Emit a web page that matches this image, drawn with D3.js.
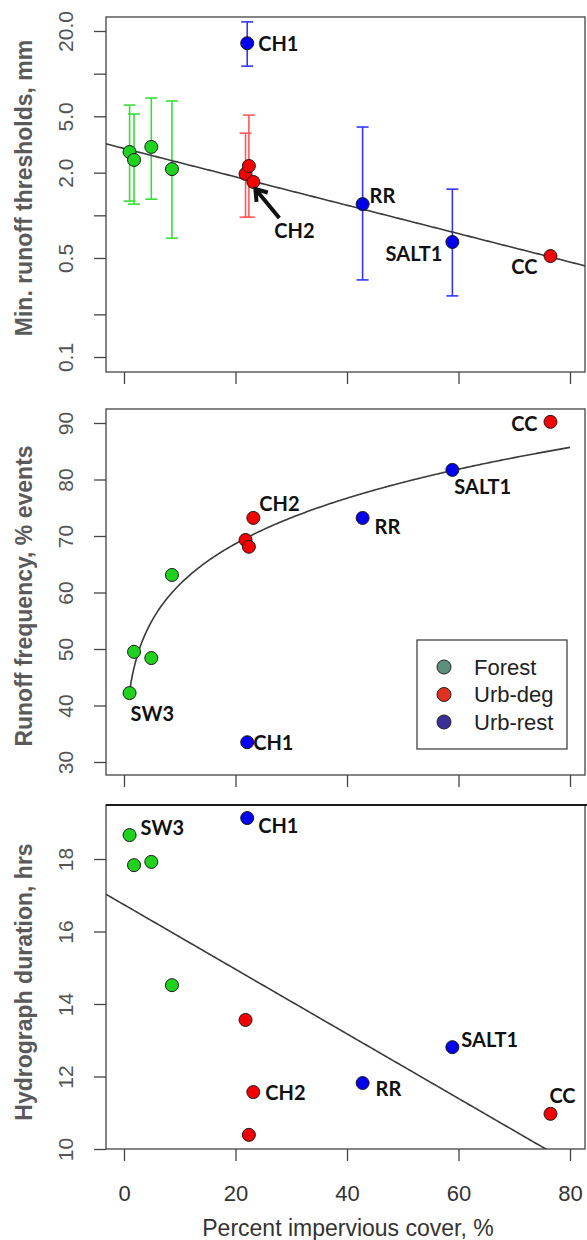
<!DOCTYPE html>
<html>
<head>
<meta charset="utf-8">
<script src="https://cdn.jsdelivr.net/npm/d3@7"></script>
<style>
  body { margin: 0; background: #fff; }
  svg { display: block; }
</style>
</head>
<body>
<svg id="chart" width="587" height="1240"></svg>
<script>
// values, one entry per site
const sites = ["SW3", "F2", "F3", "F4", "D1", "D2", "CH2", "CC", "CH1", "RR", "SALT1"];
const groups = ["Forest", "Forest", "Forest", "Forest", "Urb-deg", "Urb-deg", "Urb-deg", "Urb-deg", "Urb-rest", "Urb-rest", "Urb-rest"];
const impervious = [1.0, 1.8, 4.9, 8.6, 21.8, 22.4, 23.2, 76.5, 22.1, 42.8, 58.9];
const thresholdMin = [2.80, 2.46, 3.04, 2.12, 1.96, 2.23, 1.72, 0.516, 16.4, 1.20, 0.648];
const thresholdLow = [1.26, 1.20, 1.30, 0.69, 0.97, 0.97, null, null, 11.3, 0.35, 0.27];
const thresholdHigh = [6.0, 5.19, 6.73, 6.41, 3.8, 5.1, null, null, 23.2, 4.2, 1.53];
const runoffFreq = [42.2, 49.5, 48.4, 63.1, 69.3, 68.1, 73.2, 90.2, 33.5, 73.2, 81.7];
const hydroDuration = [18.66, 17.83, 17.92, 14.52, 13.56, 10.39, 11.57, 10.97, 19.13, 11.82, 12.81];

const legendLabels = ["Forest", "Urb-deg", "Urb-rest"];
const xTicks = [0, 20, 40, 60, 80];
const threshTicks = [0.1, 0.2, 0.5, 1, 2, 5, 10, 20];
const threshTickLabels = ["0.1", "", "0.5", "", "2.0", "5.0", "", "20.0"];
const freqTicks = [30, 40, 50, 60, 70, 80, 90];
const durTicks = [10, 12, 14, 16, 18];

// fitted lines, coefficients estimated from the drawn curves
const threshFit = [0.472, -0.01002];  // log10(y) = a + b*x
const freqFit = [42.5, 0.160];        // y = a * x^b
const durFit = [16.74, -0.0891];      // y = a + b*x

// colours
const pointFill = {"Forest": "#1ed21e", "Urb-deg": "#f50000", "Urb-rest": "#0000ee"};
const barColor = {"Forest": "#3ade3a", "Urb-deg": "#ff5a5a", "Urb-rest": "#3434ff"};
const legendFill = {"Forest": "#5e8f7c", "Urb-deg": "#e0301f", "Urb-rest": "#3b2f97"};

// label offsets from their point, px: [dx, dy, anchor]
const labelPos = {
  p1: {CH1: [11, 0, "start"], RR: [7, -9, "start"], SALT1: [-10, 11, "end"], CC: [-13, 10, "end"], CH2: [21, 48, "start"]},
  p2: {CH2: [6, -15, "start"], SW3: [1, 20, "start"], CH1: [6, 0, "start"], RR: [12, 8, "start"], SALT1: [2, 16, "start"], CC: [-13, 1, "end"]},
  p3: {SW3: [11, -8, "start"], CH1: [11, 7, "start"], CH2: [12, 0, "start"], RR: [13, 5, "start"], SALT1: [9, -8, "start"], CC: [12, -19, "middle"]}
};

const svg = d3.select("#chart");
const L = 106, R = 585;
const x = d3.scaleLinear().domain([0, 80]).range([124, 570]);
const xMin = x.invert(L), xMax = x.invert(R);

const panels = [
  {id: "p1", top: 17, bottom: 372, titleY: 188, title: "Min. runoff thresholds, mm",
   y: d3.scaleLog().domain([0.1, 20]).range([357, 31]), vals: thresholdMin,
   ticks: threshTicks, fmt: (d, i) => threshTickLabels[i]},
  {id: "p2", top: 409, bottom: 775, titleY: 596, title: "Runoff frequency, % events",
   y: d3.scaleLinear().domain([30, 90]).range([762, 423]), vals: runoffFreq,
   ticks: freqTicks, fmt: d => d},
  {id: "p3", top: 805, bottom: 1149, titleY: 982, title: "Hydrograph duration, hrs",
   y: d3.scaleLinear().domain([10, 18]).range([1149, 859]), vals: hydroDuration,
   ticks: durTicks, fmt: d => d}
];

const fitLine = {
  p1: d3.range(xMin, xMax + 0.5, 0.5).map(v => [v, Math.pow(10, threshFit[0] + threshFit[1] * v)]),
  p2: d3.range(impervious[0], 80.01, 0.25).map(v => [v, freqFit[0] * Math.pow(v, freqFit[1])]),
  p3: d3.range(xMin, xMax + 0.5, 0.5).map(v => [v, durFit[0] + durFit[1] * v])
};

panels.forEach(p => {
  const g = svg.append("g").attr("class", p.id);

  g.append("clipPath").attr("id", "clip-" + p.id)
    .append("rect").attr("x", L).attr("y", p.top).attr("width", R - L).attr("height", p.bottom - p.top);

  // y axis with rotated labels
  const ya = g.append("g").attr("transform", `translate(${L},0)`)
    .call(d3.axisLeft(p.y).tickValues(p.ticks).tickFormat(p.fmt).tickSize(12).tickSizeOuter(0));
  ya.select(".domain").remove();
  ya.selectAll("line").attr("stroke", "#444").attr("stroke-width", 1.3);
  ya.selectAll("text")
    .attr("x", 0).attr("y", -33).attr("dy", 0)
    .attr("transform", "rotate(-90)")
    .attr("text-anchor", "middle")
    .attr("fill", "#555")
    .style("font", "21px 'Liberation Sans', Arial, sans-serif");

  // x axis ticks under every panel, labels only on the last
  const xa = g.append("g").attr("transform", `translate(0,${p.bottom})`)
    .call(d3.axisBottom(x).tickValues(xTicks).tickSize(12).tickSizeOuter(0)
      .tickFormat(p.id === "p3" ? d => d : () => ""));
  xa.select(".domain").remove();
  xa.selectAll("line").attr("stroke", "#444").attr("stroke-width", 1.3);
  xa.selectAll("text").attr("y", 36).attr("fill", "#333")
    .style("font", "22px 'Liberation Sans', Arial, sans-serif");

  // box
  g.append("rect").attr("x", L).attr("y", p.top).attr("width", R - L).attr("height", p.bottom - p.top)
    .attr("fill", "none").attr("stroke", "#444").attr("stroke-width", 1.3);

  // axis title
  g.append("text")
    .attr("transform", `translate(32,${p.titleY}) rotate(-90)`)
    .attr("text-anchor", "middle")
    .attr("fill", "#5a5a5a")
    .style("font", "bold 23px 'Liberation Sans', Arial, sans-serif")
    .text(p.title);

  const plot = g.append("g").attr("clip-path", `url(#clip-${p.id})`);

  // error bars (thresholds only)
  if (p.id === "p1") {
    const idx = d3.range(sites.length).filter(i => thresholdLow[i] != null);
    const bars = plot.selectAll(".eb").data(idx).enter().append("g")
      .attr("stroke", i => barColor[groups[i]]).attr("stroke-width", 1.6);
    bars.append("line")
      .attr("x1", i => x(impervious[i])).attr("x2", i => x(impervious[i]))
      .attr("y1", i => p.y(thresholdLow[i])).attr("y2", i => p.y(thresholdHigh[i]));
    bars.append("line")
      .attr("x1", i => x(impervious[i]) - 6).attr("x2", i => x(impervious[i]) + 6)
      .attr("y1", i => p.y(thresholdLow[i])).attr("y2", i => p.y(thresholdLow[i]));
    bars.append("line")
      .attr("x1", i => x(impervious[i]) - 6).attr("x2", i => x(impervious[i]) + 6)
      .attr("y1", i => p.y(thresholdHigh[i])).attr("y2", i => p.y(thresholdHigh[i]));
  }

  // fitted line / curve
  plot.append("path")
    .datum(fitLine[p.id])
    .attr("fill", "none").attr("stroke", "#3a3a3a").attr("stroke-width", 1.6)
    .attr("d", d3.line().x(d => x(d[0])).y(d => p.y(d[1])));

  // points
  plot.selectAll(".pt").data(d3.range(sites.length)).enter().append("circle")
    .attr("cx", i => x(impervious[i])).attr("cy", i => p.y(p.vals[i])).attr("r", 6.5)
    .attr("fill", i => pointFill[groups[i]])
    .attr("stroke", "#1a1a1a").attr("stroke-width", 1);

  // site labels
  const pos = labelPos[p.id];
  Object.keys(pos).forEach(name => {
    const i = sites.indexOf(name);
    const [dx, dy, anchor] = pos[name];
    g.append("text")
      .attr("x", x(impervious[i]) + dx).attr("y", p.y(p.vals[i]) + dy)
      .attr("dominant-baseline", "central")
      .attr("text-anchor", anchor)
      .attr("fill", "#111")
      .style("font", "bold 20px Lato, 'Noto Sans', sans-serif")
      .text(name);
  });

  // arrow pointing at CH2 in the threshold panel
  if (p.id === "p1") {
    const i = sites.indexOf("CH2");
    const tip = [x(impervious[i]) + 2, p.y(p.vals[i]) + 7];
    const tail = [tip[0] + 24, tip[1] + 29];
    const ang = Math.atan2(tail[1] - tip[1], tail[0] - tip[0]);
    const head = [-0.6, 0.6].map(a => [tip[0] + 13 * Math.cos(ang + a), tip[1] + 13 * Math.sin(ang + a)]);
    g.append("path")
      .attr("d", `M${tail[0]},${tail[1]}L${tip[0]},${tip[1]}M${head[0][0]},${head[0][1]}L${tip[0]},${tip[1]}L${head[1][0]},${head[1][1]}`)
      .attr("fill", "none").attr("stroke", "#111").attr("stroke-width", 4)
      .attr("stroke-linecap", "butt").attr("stroke-linejoin", "miter");
  }

  // legend in the frequency panel
  if (p.id === "p2") {
    const lg = g.append("g");
    lg.append("rect").attr("x", 417).attr("y", 640).attr("width", 150).attr("height", 109)
      .attr("fill", "#fff").attr("stroke", "#444").attr("stroke-width", 1.3);
    legendLabels.forEach((lab, k) => {
      const cy = 667 + k * 27.5;
      lg.append("circle").attr("cx", 444).attr("cy", cy).attr("r", 7)
        .attr("fill", legendFill[lab]).attr("stroke", "#222").attr("stroke-width", 1);
      lg.append("text").attr("x", 474).attr("y", cy).attr("dominant-baseline", "central")
        .attr("fill", "#222")
        .style("font", "22px 'Liberation Sans', Arial, sans-serif")
        .text(lab);
    });
  }
});

// thicker top rule on the last panel, as in the figure
svg.append("line").attr("x1", L).attr("x2", 587).attr("y1", panels[2].top).attr("y2", panels[2].top)
  .attr("stroke", "#1a1a1a").attr("stroke-width", 2);

// shared x title
svg.append("text")
  .attr("x", 348).attr("y", 1236)
  .attr("text-anchor", "middle")
  .attr("fill", "#333")
  .style("font", "23px 'Liberation Sans', Arial, sans-serif")
  .text("Percent impervious cover, %");
</script>
</body>
</html>
